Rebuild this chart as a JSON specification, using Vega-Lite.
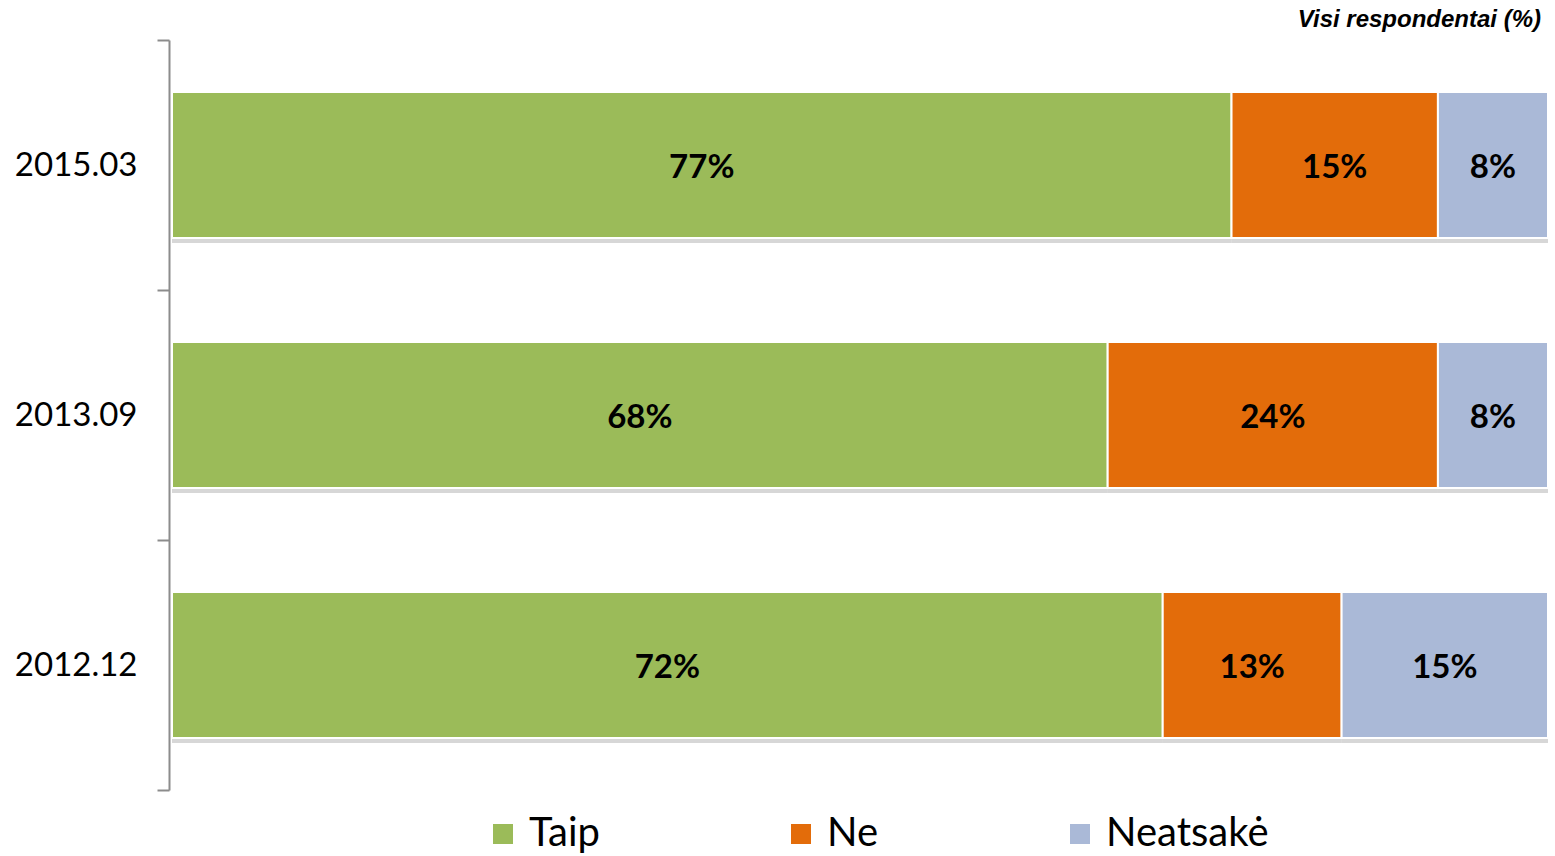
{
  "$schema": "https://vega.github.io/schema/vega-lite/v6.json",
  "width": 1376,
  "height": 750,
  "autosize": {"type": "none"},
  "padding": {"left": 172, "top": 40, "right": 7, "bottom": 66},
  "background": "white",
  "title": {
    "text": "Visi respondentai (%)",
    "anchor": "end",
    "font": "Liberation Sans",
    "fontSize": 24,
    "fontStyle": "italic",
    "fontWeight": "bold",
    "color": "#000000",
    "baseline": "alphabetic",
    "offset": -2,
    "dy": 25,
    "dx": -8
  },
  "config": {"view": {"stroke": null}},
  "data": {
    "values": [
      {"period": "2015.03", "answer": "Taip", "pct": 77, "ord": 1},
      {"period": "2015.03", "answer": "Ne", "pct": 15, "ord": 2},
      {"period": "2015.03", "answer": "Neatsakė", "pct": 8, "ord": 3},
      {"period": "2013.09", "answer": "Taip", "pct": 68, "ord": 1},
      {"period": "2013.09", "answer": "Ne", "pct": 24, "ord": 2},
      {"period": "2013.09", "answer": "Neatsakė", "pct": 8, "ord": 3},
      {"period": "2012.12", "answer": "Taip", "pct": 72, "ord": 1},
      {"period": "2012.12", "answer": "Ne", "pct": 13, "ord": 2},
      {"period": "2012.12", "answer": "Neatsakė", "pct": 15, "ord": 3}
    ]
  },
  "transform": [
    {"stack": "pct", "groupby": ["period"], "sort": [{"field": "ord"}], "as": ["x0", "x1"]},
    {"calculate": "(datum.x0 + datum.x1) / 2", "as": "xm"},
    {"calculate": "datum.pct + '%'", "as": "label"}
  ],
  "encoding": {
    "y": {
      "field": "period",
      "type": "nominal",
      "sort": ["2015.03", "2013.09", "2012.12"],
      "scale": {"paddingInner": 0, "paddingOuter": 0},
      "axis": {
        "title": null,
        "labelFont": "Lato",
        "labelFontSize": 33,
        "labelColor": "#000000",
        "labelPadding": 20,
        "domainColor": "#8c8c8c",
        "domainWidth": 2,
        "tickColor": "#8c8c8c",
        "tickWidth": 2,
        "tickSize": 12,
        "tickBand": "extent",
        "grid": false,
        "offset": 3
      }
    }
  },
  "layer": [
    {
      "mark": {"type": "bar", "color": "#9a9a9a", "opacity": 0.4, "yOffset": 5, "height": {"band": 0.584}},
      "encoding": {
        "x": {"field": "x0", "type": "quantitative", "scale": {"domain": [0, 100]}, "axis": null},
        "x2": {"field": "x1"}
      }
    },
    {
      "mark": {"type": "bar", "stroke": "white", "strokeWidth": 2, "height": {"band": 0.584}},
      "encoding": {
        "x": {"field": "x0", "type": "quantitative", "scale": {"domain": [0, 100]}, "axis": null},
        "x2": {"field": "x1"},
        "color": {
          "field": "answer",
          "type": "nominal",
          "sort": ["Taip", "Ne", "Neatsakė"],
          "scale": {"domain": ["Taip", "Ne", "Neatsakė"], "range": ["#9BBB59", "#E36C0A", "#AAB9D7"]},
          "legend": {
            "title": null,
            "orient": "none",
            "legendX": 311,
            "legendY": 774,
            "direction": "horizontal",
            "symbolType": "square",
            "symbolSize": 400,
            "symbolStrokeWidth": 0,
            "labelFont": "Lato",
            "labelFontSize": 40,
            "labelColor": "#000000",
            "labelOffset": 6,
            "labelLimit": 500,
            "columnPadding": 181
          }
        }
      }
    },
    {
      "mark": {"type": "text", "font": "Lato", "fontWeight": "bold", "fontSize": 33, "color": "#000000", "baseline": "middle", "align": "center", "dy": 3},
      "encoding": {
        "x": {"field": "xm", "type": "quantitative", "scale": {"domain": [0, 100]}, "axis": null},
        "text": {"field": "label", "type": "nominal"},
        "detail": {"field": "answer"}
      }
    }
  ]
}
